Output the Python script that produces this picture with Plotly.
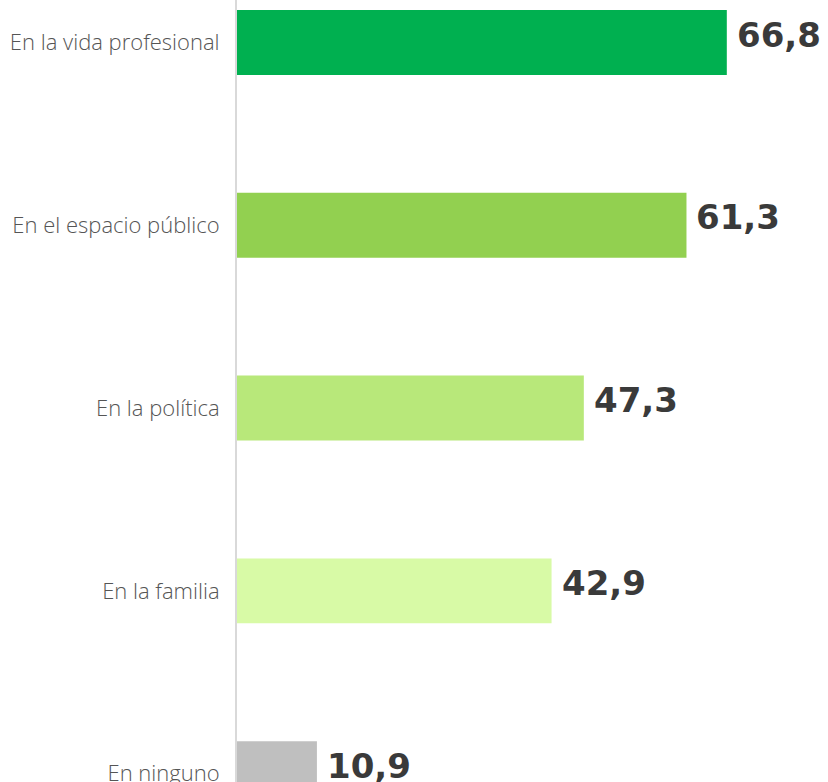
"""Horizontal bar chart: ámbitos de discriminación (%)."""

import plotly.graph_objects as go

CATEGORIES = [
    "En la vida profesional",
    "En el espacio público",
    "En la política",
    "En la familia",
    "En ninguno",
]
VALUES = [66.8, 61.3, 47.3, 42.9, 10.9]
BAR_COLORS = ["#00b050", "#92d050", "#b8e87a", "#d8faa6", "#bfbfbf"]

COLOR_TEXT_VALUE = "#3a3a3a"
COLOR_TEXT_LABEL = "#555555"
COLOR_AXIS = "#d9d9d9"

labels = [f"{v:.1f}".replace(".", ",") for v in VALUES]

fig = go.Figure(
    go.Bar(
        x=VALUES,
        y=CATEGORIES,
        orientation="h",
        width=0.355,
        marker={"color": BAR_COLORS, "line": {"width": 0}},
        hoverinfo="skip",
    )
)

# value labels just right of each bar
for cat, val, lab in zip(CATEGORIES, VALUES, labels):
    fig.add_annotation(
        x=val,
        y=cat,
        text=lab,
        showarrow=False,
        xanchor="left",
        yanchor="middle",
        xshift=8,
        yshift=8,
        font={"family": "DejaVu Sans", "size": 34, "color": COLOR_TEXT_VALUE, "weight": 700},
    )

fig.update_layout(
    width=828,
    height=782,
    paper_bgcolor="#ffffff",
    plot_bgcolor="#ffffff",
    showlegend=False,
    margin={"l": 237, "r": 0, "t": 0, "b": 0},
    font={"family": "Open Sans, sans-serif", "color": COLOR_TEXT_LABEL, "size": 22},
)
fig.update_xaxes(visible=False, range=[0, 80.6], fixedrange=True, automargin=False)
fig.update_yaxes(
    type="category",
    categoryorder="array",
    categoryarray=CATEGORIES,
    range=[4.046, -0.2326],
    automargin=False,
    showline=True,
    linecolor=COLOR_AXIS,
    linewidth=2,
    showgrid=False,
    ticks="",
    ticklabelstandoff=11,
    tickfont={"family": "Open Sans", "size": 22, "color": COLOR_TEXT_LABEL, "weight": 300},
    fixedrange=True,
)

# drop the browser's default 8px body margin so the figure fills the window
fig.write_html(
    "out.html",
    config={"displayModeBar": False},
    post_script="document.body.style.margin = '0';",
)
